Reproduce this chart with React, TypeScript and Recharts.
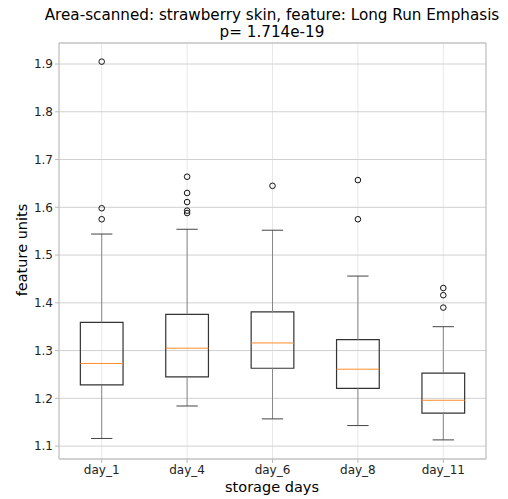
import React from "react"
import {
  ComposedChart,
  XAxis,
  YAxis,
  CartesianGrid,
  ReferenceArea,
  ReferenceLine,
  Scatter,
  Customized,
} from "recharts"

const days = ["day_1", "day_4", "day_6", "day_8", "day_11"]
const whiskerLow = [1.116, 1.184, 1.157, 1.143, 1.113]
const q1 = [1.228, 1.245, 1.263, 1.221, 1.169]
const medians = [1.273, 1.305, 1.316, 1.261, 1.196]
const q3 = [1.359, 1.376, 1.381, 1.323, 1.253]
const whiskerHigh = [1.544, 1.554, 1.552, 1.456, 1.35]
const outliers = [
  [1.905, 1.598, 1.575],
  [1.664, 1.63, 1.611, 1.593, 1.588],
  [1.645],
  [1.657, 1.575],
  [1.431, 1.416, 1.39],
]
const yTicks = [1.1, 1.2, 1.3, 1.4, 1.5, 1.6, 1.7, 1.8, 1.9]

const Y_MIN = 1.073
const Y_MAX = 1.944
const HALF = 0.25
const CAP = 0.125
const FONT = "DejaVu Sans, sans-serif"

const flierData = outliers.flatMap((vals, i) => vals.map((y) => ({ x: i + 1, y })))

const Titles = () => (
  <g fontFamily={FONT} fill="#000">
    <text x={272} y={20} textAnchor="middle" fontSize={15.2}>
      Area-scanned: strawberry skin, feature: Long Run Emphasis
    </text>
    <text x={272} y={37} textAnchor="middle" fontSize={15.2}>
      p= 1.714e-19
    </text>
    <text x={272} y={492} textAnchor="middle" fontSize={14.5}>
      storage days
    </text>
    <text x={27} y={250} textAnchor="middle" fontSize={14.5} transform="rotate(-90 27 250)">
      feature units
    </text>
  </g>
)

export default function App() {
  return (
    <div style={{ position: "absolute", left: 0, top: 0, background: "#fff" }}>
      <ComposedChart width={508} height={499} margin={{ top: 43, right: 22, left: 0, bottom: 0 }}>
        <CartesianGrid horizontal={false} stroke="#e8e8e8" />
        <CartesianGrid vertical={false} stroke="#d0d0d0" />
        <XAxis
          type="number"
          dataKey="x"
          domain={[0.5, 5.5]}
          ticks={[1, 2, 3, 4, 5]}
          tickFormatter={(v) => days[v - 1]}
          allowDataOverflow
          height={40}
          stroke="#bbb"
          tickSize={4}
          tick={{ fill: "#222", fontSize: 12, fontFamily: FONT }}
        />
        <YAxis
          type="number"
          dataKey="y"
          domain={[Y_MIN, Y_MAX]}
          ticks={yTicks}
          tickFormatter={(v) => v.toFixed(1)}
          allowDataOverflow
          width={59}
          stroke="#bbb"
          tickSize={4}
          tick={{ fill: "#222", fontSize: 12, fontFamily: FONT }}
        />
        <ReferenceLine y={Y_MAX} stroke="#bbb" />
        <ReferenceLine x={5.5} stroke="#bbb" />
        {days.map((d, i) => (
          <React.Fragment key={d}>
            <ReferenceLine
              segment={[{ x: i + 1, y: whiskerLow[i] }, { x: i + 1, y: q1[i] }]}
              stroke="#888"
            />
            <ReferenceLine
              segment={[{ x: i + 1, y: q3[i] }, { x: i + 1, y: whiskerHigh[i] }]}
              stroke="#888"
            />
            <ReferenceLine
              segment={[{ x: i + 1 - CAP, y: whiskerLow[i] }, { x: i + 1 + CAP, y: whiskerLow[i] }]}
              stroke="#444"
            />
            <ReferenceLine
              segment={[{ x: i + 1 - CAP, y: whiskerHigh[i] }, { x: i + 1 + CAP, y: whiskerHigh[i] }]}
              stroke="#444"
            />
            <ReferenceArea
              x1={i + 1 - HALF}
              x2={i + 1 + HALF}
              y1={q1[i]}
              y2={q3[i]}
              fill="none"
              stroke="#333"
              strokeWidth={1.2}
              fillOpacity={0}
            />
            <ReferenceLine
              segment={[{ x: i + 1 - HALF, y: medians[i] }, { x: i + 1 + HALF, y: medians[i] }]}
              stroke="#ff8c2a"
            />
          </React.Fragment>
        ))}
        <Scatter
          data={flierData}
          isAnimationActive={false}
          shape={(p: any) => (
            <circle cx={p.cx} cy={p.cy} r={2.8} fill="none" stroke="#111" strokeWidth={1} />
          )}
        />
        <Customized component={Titles} />
      </ComposedChart>
    </div>
  )
}
